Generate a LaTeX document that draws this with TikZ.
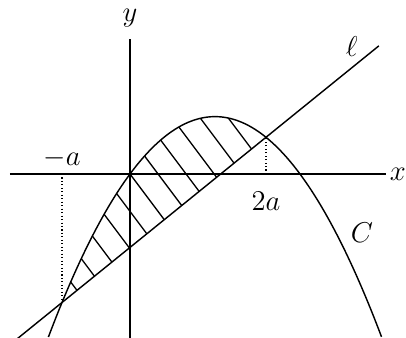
\documentclass[tikz,border=0pt]{standalone}
\usetikzlibrary{calc}
\begin{document}
\begin{tikzpicture}[x=1cm,y=1cm,
  declare function={f(\x)=-0.54*\x*\x+1.35*\x; g(\x)=0.81*\x-1.08;},
  curve/.style={line width=0.6pt, line join=round},
  axis/.style={line width=0.6pt},
  hatchline/.style={line width=0.55pt},
  guide/.style={densely dotted, line width=0.45pt},
  lbl/.style={font=\fontsize{11.5}{14}\selectfont, inner sep=1pt}]
\useasboundingbox (-1.912,-2.412) rectangle (4.059,2.559);
% hatching
\begin{scope}
  \clip plot[domain=-1:2, samples=80] (\x,{f(\x)}) -- cycle;
  \foreach \k in {-5,...,5}
    \draw[hatchline] ({\k*0.2653-1.8},{\k*0.1964+2.4}) -- ({\k*0.2653+1.8},{\k*0.1964-2.4});
\end{scope}
% axes
\coordinate (xl) at (-1.765,0);
\coordinate (xr) at (3.765,0);
\coordinate (yb) at (0,-2.412);
\coordinate (yt) at (0,1.985);
\draw[axis] (xl) -- (xr);
\draw[axis] (yb) -- (yt);
% guides
\coordinate (ma) at (-1,0);
\coordinate (A) at (-1,{f(-1)});
\coordinate (tb) at (2,0);
\coordinate (B) at (2,{f(2)});
\draw[guide] (ma) -- (A);
\draw[guide] (tb) -- (B);
% line l
\coordinate (l0) at (-1.66,{g(-1.66)});
\coordinate (l1) at (3.66,{g(3.66)});
\draw[curve] (l0) -- (l1);
% parabola C
\draw[curve] plot[domain=-1.2:3.7, samples=120] (\x,{f(\x)});
% labels
\node[lbl] (ylab) at (0,2.29) {$y$};
\node[lbl] (xlab) at (3.94,0) {$x$};
\node[lbl] (llab) at (3.26,1.87) {$\ell$};
\node[lbl] (clab) at (3.41,-0.87) {$C$};
\node[lbl] (malab) at (-1.0,0.235) {$-a$};
\node[lbl] (talab) at (2.0,-0.40) {$2a$};
\end{tikzpicture}
\end{document}
